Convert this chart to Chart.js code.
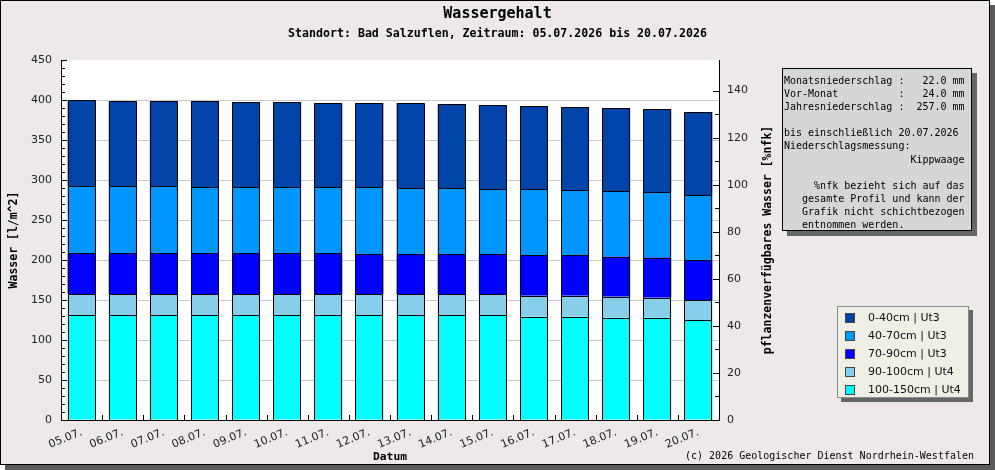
<!DOCTYPE html>
<html><head><meta charset="utf-8">
<script src="https://cdn.jsdelivr.net/npm/chart.js@4.4.1/dist/chart.umd.min.js"></script>
<style>
html,body{margin:0;padding:0;background:#fff;}
#wrap{position:relative;width:995px;height:470px;overflow:hidden;}
#c{position:absolute;left:0;top:0;}
#info{position:absolute;left:782px;top:68px;width:190px;height:163px;box-sizing:border-box;padding:5px 1px 2px 1px;background:#d6d6d6;border:1px solid #000;box-shadow:5px 5px 0 #666;font:10px/13.1px "DejaVu Sans Mono",monospace;color:#000;white-space:pre;}
#legend{position:absolute;left:837px;top:306px;width:132px;height:92px;box-sizing:border-box;background:#efefe6;border:1px solid #8a8a8a;box-shadow:4px 4px 0 #666;padding-top:2px;font:11px "DejaVu Sans",sans-serif;color:#111;}
#legend .row{height:18px;position:relative;}
#legend .sw{position:absolute;left:7px;top:4px;width:10px;height:10px;box-sizing:border-box;border:1px solid #444;}
#legend .lt{position:absolute;left:30px;top:0;line-height:18px;white-space:nowrap;}
#copy{position:absolute;right:21px;top:449px;font:10px/13px "DejaVu Sans Mono",monospace;color:#000;white-space:pre;}
</style>
</head><body>
<div id="wrap">
<canvas id="c" width="995" height="470"></canvas>
<div id="info"></div>
<div id="legend"></div>
<div id="copy"></div>
</div>
<script>
// ---- data ----
const categories = ['05.07.','06.07.','07.07.','08.07.','09.07.','10.07.','11.07.','12.07.','13.07.','14.07.','15.07.','16.07.','17.07.','18.07.','19.07.','20.07.'];
const layer100_150 = [130.8,130.8,130.8,130.8,130.8,130.8,130.8,130.8,130.8,130.8,130.8,129.2,129.2,127.9,127.9,124.6];
const layer90_100  = [26.3,26.3,26.3,26.3,26.3,26.3,26.3,26.1,26.1,26.1,26.1,26.2,26.2,26.3,25.0,25.0];
const layer70_90   = [51.2,51.2,51.2,51.2,51.2,51.2,51.2,50.2,50.2,50.2,50.2,50.4,50.4,50.0,50.1,50.0];
const layer40_70   = [83.8,83.8,83.8,82.5,82.5,82.5,82.5,83.7,82.5,82.5,81.2,82.5,81.3,81.6,81.6,81.6];
const layer0_40    = [107.5,106.2,106.2,107.5,106.7,106.7,105.4,105.4,106.6,105.4,105.5,104.2,104.1,104.2,104.2,103.8];
const seriesNames  = ['100-150cm | Ut4','90-100cm | Ut4','70-90cm | Ut3','40-70cm | Ut3','0-40cm | Ut3'];
const seriesColors = ['#00ffff','#87ceeb','#0000ff','#0096ff','#0044aa'];
const leftTickLabels  = [0,50,100,150,200,250,300,350,400,450];
const rightTickLabels = [0,20,40,60,80,100,120,140];
const leftMax = 450, rightMax = 153;
const titleText = 'Wassergehalt';
const subtitleText = 'Standort: Bad Salzuflen, Zeitraum: 05.07.2026 bis 20.07.2026';
const xTitle = 'Datum';
const yTitle = 'Wasser [l/m^2]';
const y1Title = 'pflanzenverfügbares Wasser [%nfk]';
const infoLines = [
'Monatsniederschlag :   22.0 mm',
'Vor-Monat          :   24.0 mm',
'Jahresniederschlag :  257.0 mm',
'',
'bis einschließlich 20.07.2026',
'Niederschlagsmessung:',
'                     Kippwaage',
'',
'     %nfk bezieht sich auf das',
'   gesamte Profil und kann der',
'   Grafik nicht schichtbezogen',
'   entnommen werden.'
];
const copyrightText = '(c) 2026 Geologischer Dienst Nordrhein-Westfalen';

// ---- html parts ----
document.getElementById('info').textContent = infoLines.join('\n');
document.getElementById('copy').textContent = copyrightText;

const layers = [layer100_150, layer90_100, layer70_90, layer40_70, layer0_40];
const datasets = layers.map((d,i)=>({
  label: seriesNames[i], data: d, backgroundColor: seriesColors[i],
  borderColor:'#000', borderWidth:0, barPercentage:0.68, categoryPercentage:1, yAxisID:'y'
}));

const leg = document.getElementById('legend');
datasets.slice().reverse().forEach(ds=>{
  const r=document.createElement('div'); r.className='row';
  const s=document.createElement('div'); s.className='sw'; s.style.background=ds.backgroundColor;
  const t=document.createElement('div'); t.className='lt'; t.textContent=ds.label;
  r.appendChild(s); r.appendChild(t); leg.appendChild(r);
});

const monoBold = s => ({family:'DejaVu Sans Mono', size:s, weight:'bold', lineHeight:1.2});
const tickFont = {family:'DejaVu Sans', size:11};

const decor = {
  id:'decor',
  beforeDraw(chart){
    const {ctx, chartArea:a} = chart;
    ctx.save();
    ctx.fillStyle='#fff'; ctx.fillRect(0,0,995,470);
    ctx.fillStyle='#5a5a5a'; ctx.fillRect(5,5,990,465);
    ctx.fillStyle='#000'; ctx.fillRect(0,0,990,465);
    ctx.fillStyle='#ece9e8'; ctx.fillRect(1,1,988,463);
    ctx.fillStyle='#fff'; ctx.fillRect(a.left,a.top,a.right-a.left,a.bottom-a.top);
    ctx.restore();
  },
  afterDatasetsDraw(chart){
    const ctx = chart.ctx;
    ctx.save();
    ctx.strokeStyle='#000'; ctx.lineWidth=1;
    ctx.beginPath();
    chart.data.datasets.forEach((ds,di)=>{
      const meta = chart.getDatasetMeta(di);
      meta.data.forEach(el=>{
        const p = el.getProps(['x','y','base','width'], true);
        const l = Math.round(p.x - p.width/2) + 0.5;
        const r = Math.round(p.x + p.width/2) - 0.5;
        const t = Math.round(p.y) + 0.5;
        const b = Math.round(p.base);
        ctx.moveTo(l, b); ctx.lineTo(l, t); ctx.lineTo(r, t); ctx.lineTo(r, b);
      });
    });
    ctx.stroke();
    ctx.restore();
  },
  afterDraw(chart){
    const {ctx, chartArea:a, scales} = chart;
    ctx.save();
    ctx.strokeStyle='#000'; ctx.lineWidth=1;
    ctx.beginPath();
    scales.y.ticks.forEach(t=>{
      if (t.value % 10) return;
      const y = Math.round(scales.y.getPixelForValue(t.value)) + 0.5;
      const len = (t.value % 50 === 0) ? 6 : 4;
      ctx.moveTo(a.left, y); ctx.lineTo(a.left + len, y);
    });
    scales.y1.ticks.forEach(t=>{
      if (t.value % 10) return;
      const y = Math.round(scales.y1.getPixelForValue(t.value)) + 0.5;
      const len = (t.value % 20 === 0) ? 6 : 4;
      ctx.moveTo(a.right, y); ctx.lineTo(a.right - len, y);
    });
    const xs = scales.x;
    for (let i=1;i<categories.length;i++){
      const px = Math.round((xs.getPixelForTick(i-1)+xs.getPixelForTick(i))/2) + 0.5;
      ctx.moveTo(px, a.bottom); ctx.lineTo(px, a.bottom-5);
    }
    ctx.stroke();
    ctx.translate(768, (a.top+a.bottom)/2);
    ctx.rotate(-Math.PI/2);
    ctx.font = 'bold 11.5px "DejaVu Sans Mono"';
    ctx.textAlign='center'; ctx.textBaseline='middle'; ctx.fillStyle='#000';
    ctx.fillText(y1Title, 0, 0);
    ctx.restore();
  }
};

new Chart(document.getElementById('c'), {
  type:'bar',
  data:{labels:categories, datasets},
  options:{
    responsive:false, animation:false, devicePixelRatio:1,
    layout:{padding:0},
    plugins:{
      legend:{display:false}, tooltip:{enabled:false},
      title:{display:true, text:titleText, color:'#000', font:monoBold(15), padding:{top:5,bottom:2}},
      subtitle:{display:true, text:subtitleText, color:'#000', font:monoBold(11.6), padding:{top:2,bottom:19.08}}
    },
    scales:{
      x:{
        stacked:true,
        grid:{display:false, drawTicks:false},
        border:{display:true, color:'#000'},
        ticks:{minRotation:22, maxRotation:22, autoSkip:false, font:tickFont, color:'#222', padding:6},
        title:{display:true, text:xTitle, color:'#000', font:monoBold(11.3), padding:{top:0,bottom:6}},
        afterFit(s){ s.height = 50; }
      },
      y:{
        stacked:true, position:'left', min:0, max:leftMax,
        grid:{drawTicks:false, color: c => (c.tick && c.tick.value%50===0 && c.tick.value>0 && c.tick.value<leftMax) ? '#c8c8c8' : 'rgba(0,0,0,0)'},
        border:{display:true, color:'#000'},
        ticks:{stepSize:10, autoSkip:false, padding:9, font:tickFont, color:'#222',
          callback: v => leftTickLabels.includes(v) ? String(v) : ''},
        title:{display:true, text:yTitle, color:'#000', font:monoBold(11.5), padding:{top:7,bottom:0}},
        afterFit(s){ s.width = 61; }
      },
      y1:{
        position:'right', min:0, max:rightMax,
        grid:{drawOnChartArea:false, drawTicks:false},
        border:{display:true, color:'#000'},
        ticks:{stepSize:10, autoSkip:false, padding:8, font:tickFont, color:'#222',
          callback: v => rightTickLabels.includes(v) ? String(v) : ''},
        afterFit(s){ s.width = 276; }
      }
    }
  },
  plugins:[decor]
});
</script>
</body></html>
